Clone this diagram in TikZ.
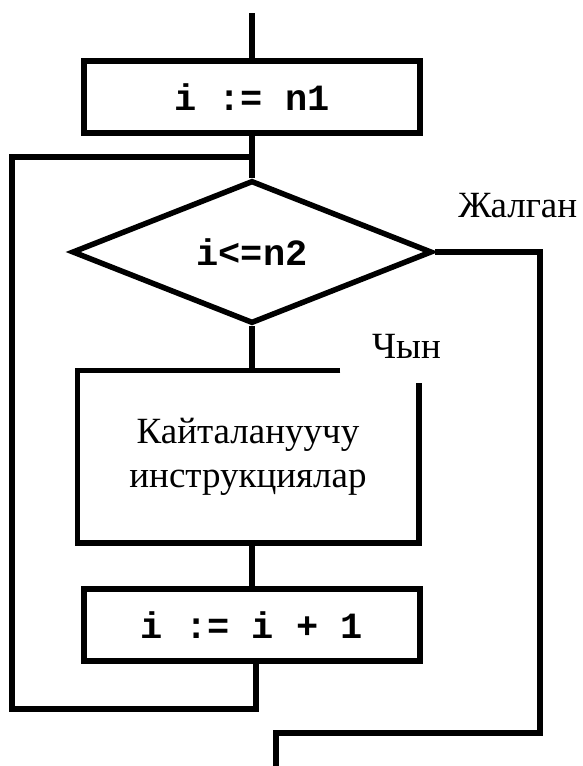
\documentclass[tikz,border=0pt]{standalone}
\usepackage{fontspec}
\setmainfont{Liberation Serif}
\setmonofont{Liberation Mono}
\usetikzlibrary{shapes.geometric,calc}
\begin{document}
\begin{tikzpicture}[x=1pt,y=1pt,line width=5.5pt,line join=miter,
  box/.style={draw,rectangle,inner sep=0pt,minimum width=336pt,minimum height=72pt},
  code/.style={font=\fontsize{37}{42}\selectfont\ttfamily\bfseries},
  lbl/.style={font=\fontsize{37}{44}\selectfont}]
\useasboundingbox (0,0) rectangle (583,-766);
\coordinate (start) at (252,-13);
\node[box,code] (init) at (252,-97) {i := n1};
\coordinate (join) at (252,-157);
\node[diamond,draw,inner sep=0pt,minimum width=360pt,minimum height=143pt,code] (cond) at (252,-252) {i<=n2};
\node[rectangle,inner sep=0pt,minimum width=336pt,minimum height=167pt,lbl,align=center] (body) at (248,-456.5) {Кайталануучу\\инструкциялар};
\node[box,code] (inc) at (252,-625) {i := i + 1};
\node[lbl,anchor=base east,inner sep=0pt] (no) at (580,-217) {Жалган};
\node[lbl,anchor=base west] (yes) at (366,-358) {Чын};
\coordinate (lb) at (256,-709);
\coordinate (lt) at (12,-157);
\coordinate (er) at (540,-733);
\coordinate (end) at (276,-766);
% partial border of body
\draw ($(body.north west)+(263,0)$) -- (body.north west) -- (body.south west) -- (body.south east) -- ($(body.north east)+(0,-13)$);
% connectors
\draw (start) -- (init.north);
\draw (init.south) -- (cond.north);
\draw (cond.south) -- (cond.south |- body.north);
\draw (inc.north |- body.south) -- (inc.north);
\draw (inc.south -| lb) -- (lb) -| (lt) -- (join);
\draw (cond.east) -| (er) -| (end);
\end{tikzpicture}
\end{document}
